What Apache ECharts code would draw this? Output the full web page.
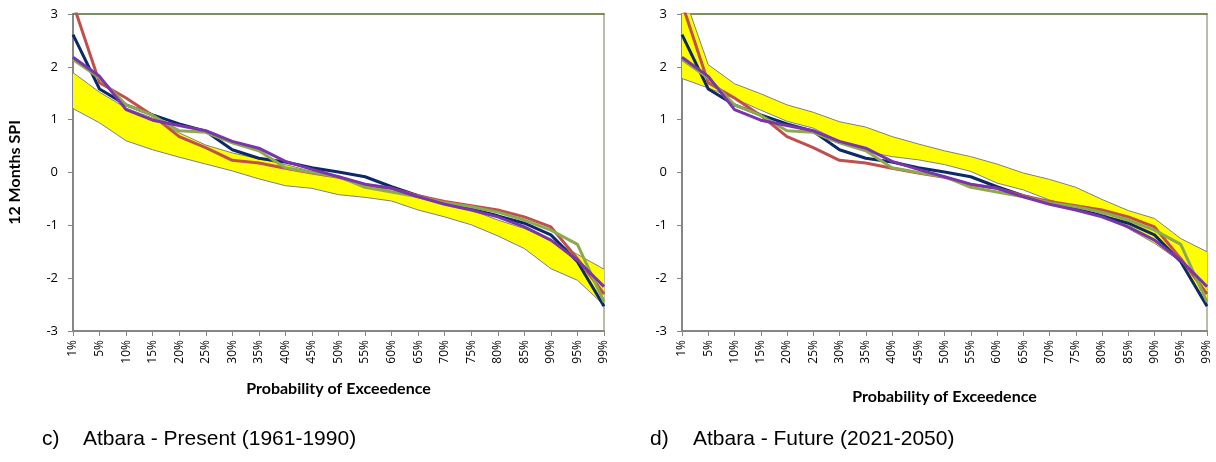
<!DOCTYPE html>
<html>
<head>
<meta charset="utf-8">
<script src="https://cdn.jsdelivr.net/npm/echarts@6/dist/echarts.min.js"></script>
<style>
  html, body { margin: 0; padding: 0; background: #fff; }
  #chart { width: 1216px; height: 462px; }
</style>
</head>
<body>
<div id="chart"></div>
<script>
// Categories (probability of exceedence)
const categories = ['1%','5%','10%','15%','20%','25%','30%','35%','40%','45%','50%','55%','60%','65%','70%','75%','80%','85%','90%','95%','99%'];
const yTicks = [-3, -2, -1, 0, 1, 2, 3];

// Observed SPI curves (same in both panels)
const navy   = [2.61,1.58,1.28,1.09,0.92,0.78,0.43,0.27,0.20,0.09,0.01,-0.08,-0.27,-0.44,-0.58,-0.69,-0.82,-0.96,-1.18,-1.69,-2.53];
const red    = [3.20,1.70,1.41,1.08,0.68,0.47,0.23,0.18,0.08,-0.01,-0.09,-0.23,-0.30,-0.44,-0.55,-0.63,-0.71,-0.84,-1.03,-1.63,-2.30];
const green  = [2.14,1.79,1.28,1.08,0.79,0.76,0.56,0.41,0.09,0.00,-0.08,-0.28,-0.37,-0.46,-0.57,-0.65,-0.75,-0.90,-1.09,-1.36,-2.45];
const purple = [2.18,1.82,1.19,0.99,0.89,0.79,0.59,0.46,0.21,0.06,-0.08,-0.22,-0.30,-0.46,-0.60,-0.71,-0.84,-1.03,-1.28,-1.66,-2.16];

// Model envelope, present (1961-1990)
const presentUpper = [1.89,1.52,1.22,1.03,0.75,0.52,0.37,0.26,0.15,0.02,-0.08,-0.23,-0.35,-0.46,-0.58,-0.71,-0.90,-1.06,-1.27,-1.55,-1.83];
const presentLower = [1.21,0.94,0.60,0.43,0.29,0.16,0.03,-0.12,-0.25,-0.30,-0.42,-0.47,-0.54,-0.71,-0.84,-0.99,-1.20,-1.44,-1.82,-2.04,-2.51];

// Model envelope, future (2021-2050)
const futureUpper = [3.46,2.04,1.68,1.49,1.28,1.14,0.96,0.86,0.68,0.54,0.41,0.30,0.16,-0.01,-0.13,-0.28,-0.51,-0.72,-0.87,-1.25,-1.50];
const futureLower = [1.78,1.60,1.40,1.18,0.97,0.84,0.59,0.40,0.30,0.24,0.15,0.02,-0.20,-0.33,-0.52,-0.66,-0.77,-1.06,-1.34,-1.69,-2.48];

const xTitle = 'Probability of Exceedence';
const yTitle = '12 Months SPI';

const chart = echarts.init(document.getElementById('chart'), null, { renderer: 'canvas' });

const tickFont = 'Open Sans';
const titleFont = 'Lato';
const axisGray = '#868686';

function bottomX(gridIndex, nameGap) {
  return {
    type: 'category', gridIndex, position: 'bottom', data: categories, boundaryGap: false,
    axisLine: { show: true, onZero: false, lineStyle: { color: axisGray, width: 2 } },
    axisTick: { show: true, alignWithLabel: true, interval: 0, length: 5, lineStyle: { color: axisGray, width: 1 } },
    axisLabel: { interval: 0, rotate: 90, margin: 9, color: '#000', fontFamily: tickFont, fontSize: 12 },
    splitLine: { show: false },
    name: xTitle, nameLocation: 'middle', nameGap: nameGap,
    nameTextStyle: { fontFamily: titleFont, fontWeight: 'bold', fontSize: 16, color: '#000' }
  };
}
function topX(gridIndex) {
  return {
    type: 'category', gridIndex, position: 'top', data: categories, boundaryGap: false,
    axisLine: { show: true, onZero: false, lineStyle: { color: '#566b25', width: 1.5 } },
    axisTick: { show: false }, axisLabel: { show: false }, splitLine: { show: false }
  };
}
function leftY(gridIndex, withName) {
  const ax = {
    type: 'value', gridIndex, position: 'left', min: yTicks[0], max: yTicks[yTicks.length - 1], interval: 1,
    axisLine: { show: true, onZero: false, lineStyle: { color: axisGray, width: 2 } },
    axisTick: { show: true, length: 5, lineStyle: { color: axisGray, width: 1 } },
    axisLabel: { margin: 15, color: '#000', fontFamily: tickFont, fontSize: 13 },
    splitLine: { show: false }
  };
  if (withName) {
    ax.name = yTitle; ax.nameLocation = 'middle'; ax.nameGap = 50; ax.nameRotate = 90;
    ax.nameTextStyle = { fontFamily: titleFont, fontWeight: 'bold', fontSize: 16, color: '#000' };
  }
  return ax;
}
function rightY(gridIndex) {
  return {
    type: 'value', gridIndex, position: 'right', min: yTicks[0], max: yTicks[yTicks.length - 1], interval: 1,
    axisLine: { show: true, onZero: false, lineStyle: { color: '#a1a98e', width: 1.5 } },
    axisTick: { show: false }, axisLabel: { show: false }, splitLine: { show: false }
  };
}

function bandSeries(xi, yi, lower, upper, key) {
  return [
    { type: 'line', xAxisIndex: xi, yAxisIndex: yi, data: lower, stack: key, stackStrategy: 'all',
      symbol: 'none', lineStyle: { color: '#7f7f7f', width: 1 }, z: 1, silent: true },
    { type: 'line', xAxisIndex: xi, yAxisIndex: yi, data: upper.map((v, i) => +(v - lower[i]).toFixed(3)),
      stack: key, stackStrategy: 'all', symbol: 'none',
      lineStyle: { color: '#7f7f7f', width: 1 }, areaStyle: { color: '#ffff00', opacity: 1 }, z: 1, silent: true }
  ];
}
function obsSeries(xi, yi) {
  const defs = [[navy, '#0c2a66'], [red, '#c0504d'], [green, '#8eaa4e'], [purple, '#7a35ad']];
  return defs.map(([d, c]) => ({
    type: 'line', xAxisIndex: xi, yAxisIndex: yi, data: d, symbol: 'none',
    lineStyle: { color: c, width: 3 }, z: 3, silent: true
  }));
}

const captionFont = '21px "Liberation Sans", Arial';
const option = {
  animation: false,
  backgroundColor: '#fff',
  grid: [
    { left: 73, top: 14, width: 531, height: 317, containLabel: false },
    { left: 682, top: 14, width: 525, height: 317, containLabel: false }
  ],
  xAxis: [bottomX(0, 50), bottomX(1, 58), topX(0), topX(1)],
  yAxis: [leftY(0, true), leftY(1, false), rightY(0), rightY(1)],
  series: [
    ...bandSeries(0, 0, presentLower, presentUpper, 'p'),
    ...obsSeries(0, 0),
    ...bandSeries(1, 1, futureLower, futureUpper, 'f'),
    ...obsSeries(1, 1)
  ],
  graphic: [
    { type: 'text', left: 42, top: 429, style: { text: 'c)', font: captionFont, fill: '#000' } },
    { type: 'text', left: 83, top: 429, style: { text: 'Atbara - Present (1961-1990)', font: captionFont, fill: '#000' } },
    { type: 'text', left: 650, top: 429, style: { text: 'd)', font: captionFont, fill: '#000' } },
    { type: 'text', left: 693, top: 429, style: { text: 'Atbara - Future (2021-2050)', font: captionFont, fill: '#000' } }
  ]
};
chart.setOption(option);
</script>
</body>
</html>
